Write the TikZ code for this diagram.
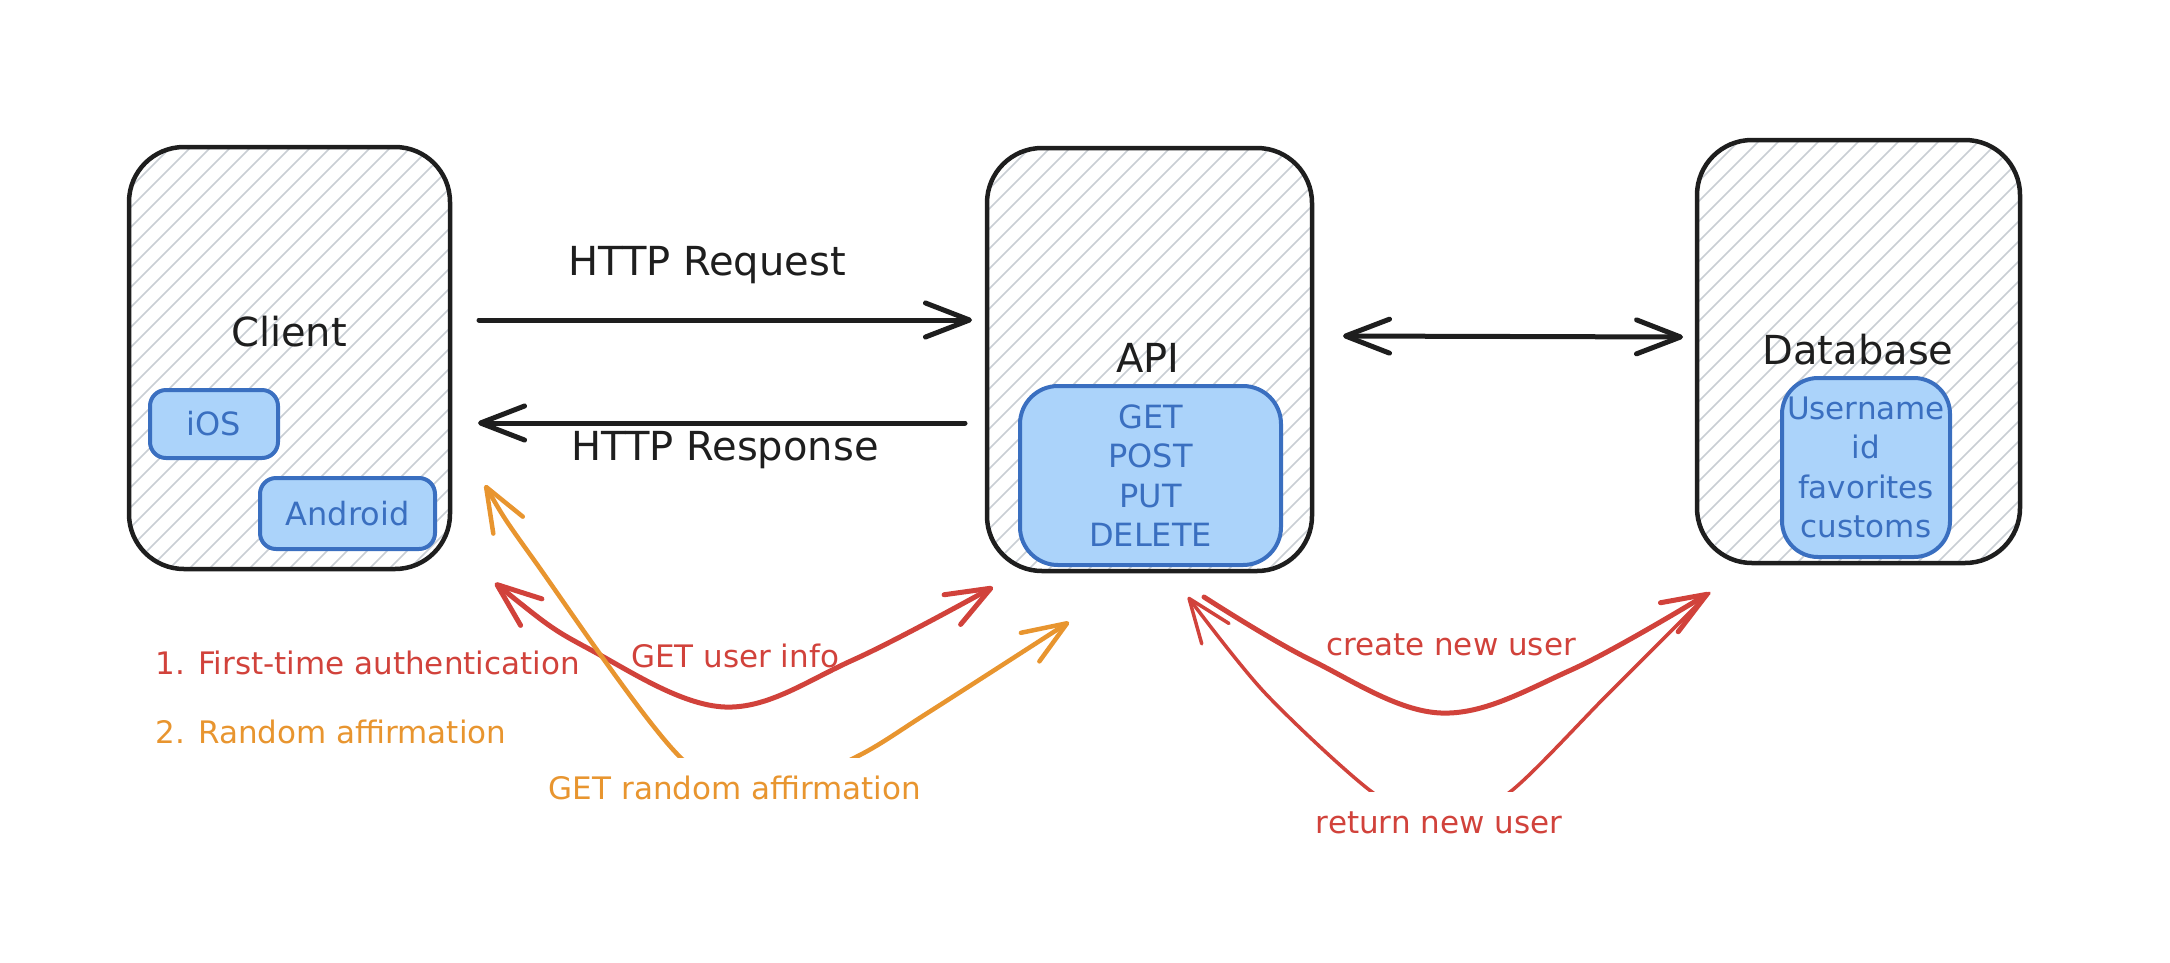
\documentclass[tikz,border=0pt]{standalone}
\usepackage{fontspec}
\setmainfont{DejaVu Sans}
\usetikzlibrary{arrows.meta}
\definecolor{ink}{HTML}{1E1E1E}
\definecolor{hatchgrey}{HTML}{C9CED4}
\definecolor{bfill}{HTML}{ABD3FA}
\definecolor{bline}{HTML}{3A6FC0}
\definecolor{rd}{HTML}{D1423B}
\definecolor{og}{HTML}{E8952F}
\tikzset{
  hatched/.style={path picture={
     \foreach \k in {-500,-480,...,380}
       \draw[hatchgrey, line width=1.7pt] ([xshift=\k pt]path picture bounding box.south west) -- ++(600pt,600pt);
  }},
  panel/.style={draw=ink, line width=4.5pt, rounded corners=55pt, inner sep=0pt, hatched},
  chip/.style={draw=bline, fill=bfill, line width=4pt, inner sep=0pt,
     text=bline, font=\fontsize{32}{39.5}\selectfont, align=center},
  blk/.style={text=ink, font=\fontsize{40}{48}\selectfont},
  rtxt/.style={text=rd, font=\fontsize{31}{37}\selectfont},
  otxt/.style={text=og, font=\fontsize{31}{37}\selectfont},
  blackarrow/.style={draw=ink, line width=5pt, line cap=round, line join=round},
  redarrow/.style={draw=rd, line width=5pt, line cap=round, line join=round},
  orangearrow/.style={draw=og, line width=4.5pt, line cap=round, line join=round},
}
\begin{document}
\begin{tikzpicture}[x=1pt,y=-1pt, >={Straight Barb[length=44pt,width=34pt,round]}]
\useasboundingbox (0,0) rectangle (2170,962);

% main panels
\node[panel, minimum width=321pt, minimum height=422pt] (client) at (289.5,358) {};
\node[panel, minimum width=325pt, minimum height=423pt] (api) at (1149.5,359.5) {};
\node[panel, minimum width=323pt, minimum height=423pt] (db) at (1858.5,351.5) {};

% panel titles
\node[blk] (clientlbl) at (289,332) {Client};
\node[blk] (apilbl) at (1148,358) {API};
\node[blk] (dblbl) at (1858,350) {Database};

% inner chips
\node[chip, rounded corners=16pt, minimum width=128pt, minimum height=68pt] (ios) at (214,424) {iOS};
\node[chip, rounded corners=16pt, minimum width=175pt, minimum height=71pt] (android) at (347.5,513.5) {Android};
\node[chip, rounded corners=38pt, minimum width=261pt, minimum height=179pt] (methods) at (1150.5,475.5) {GET\\POST\\PUT\\DELETE};
\node[chip, rounded corners=36pt, minimum width=168pt, minimum height=179pt, font=\fontsize{31}{39.5}\selectfont] (fields) at (1866,467.5) {Username\\id\\favorites\\customs};

% HTTP arrows
\coordinate (reqS) at (479,320);
\coordinate (reqE) at (972,320);
\coordinate (resS) at (965,423);
\coordinate (resE) at (478,423);
\draw[blackarrow, ->] (reqS) -- (reqE);
\draw[blackarrow, ->] (resS) -- (resE);
\node[blk] (reqlbl) at (707,265) {HTTP Request};
\node[blk] (reslbl) at (725,450) {HTTP Response};

% API <-> DB
\coordinate (adS) at (1343,336);
\coordinate (adE) at (1683,337);
\draw[blackarrow, <->] (adS) -- (adE);

% legend
\node[rtxt, anchor=west] (leg1) at (152,663) {1. First-time authentication};
\node[otxt, anchor=west] (leg2) at (152,732) {2. Random affirmation};

% GET user info (red)
\coordinate (uiC) at (495,583);
\coordinate (uiA) at (993,587);
\draw[redarrow, <->] plot[smooth, tension=0.6] coordinates {(uiC) (591,650) (725,707) (853,660) (uiA)};
\node[rtxt] (uilbl) at (735,656) {GET user info};

% GET random affirmation (orange)
\coordinate (raC) at (485,485);
\coordinate (raA) at (1069,622);
\draw[orangearrow, <->] plot[smooth, tension=0.55] coordinates {(raC) (534,560) (680,757) (768,792) (856,757) (929,712) (raA)};
\node[otxt, fill=white, inner xsep=2pt, inner ysep=18pt] (ralbl) at (735,788) {GET random affirmation};

% create new user (red)
\coordinate (cuA) at (1204,597);
\coordinate (cuD) at (1709,593);
\draw[redarrow, ->] plot[smooth, tension=0.6] coordinates {(cuA) (1311,660) (1441,713) (1571,670) (cuD)};
\node[rtxt] (culbl) at (1451,645) {create new user};

% return new user (red)
\coordinate (ruD) at (1709,593);
\coordinate (ruA) at (1188,597);
\draw[redarrow, line width=3.5pt, ->] plot[smooth, tension=0.5] coordinates {(ruD) (1609,693) (1510,792) (1441,825) (1372,792) (1265,693) (ruA)};
\node[rtxt, fill=white, inner xsep=2pt, inner ysep=20pt] (rulbl) at (1439,823) {return new user};
\end{tikzpicture}
\end{document}
